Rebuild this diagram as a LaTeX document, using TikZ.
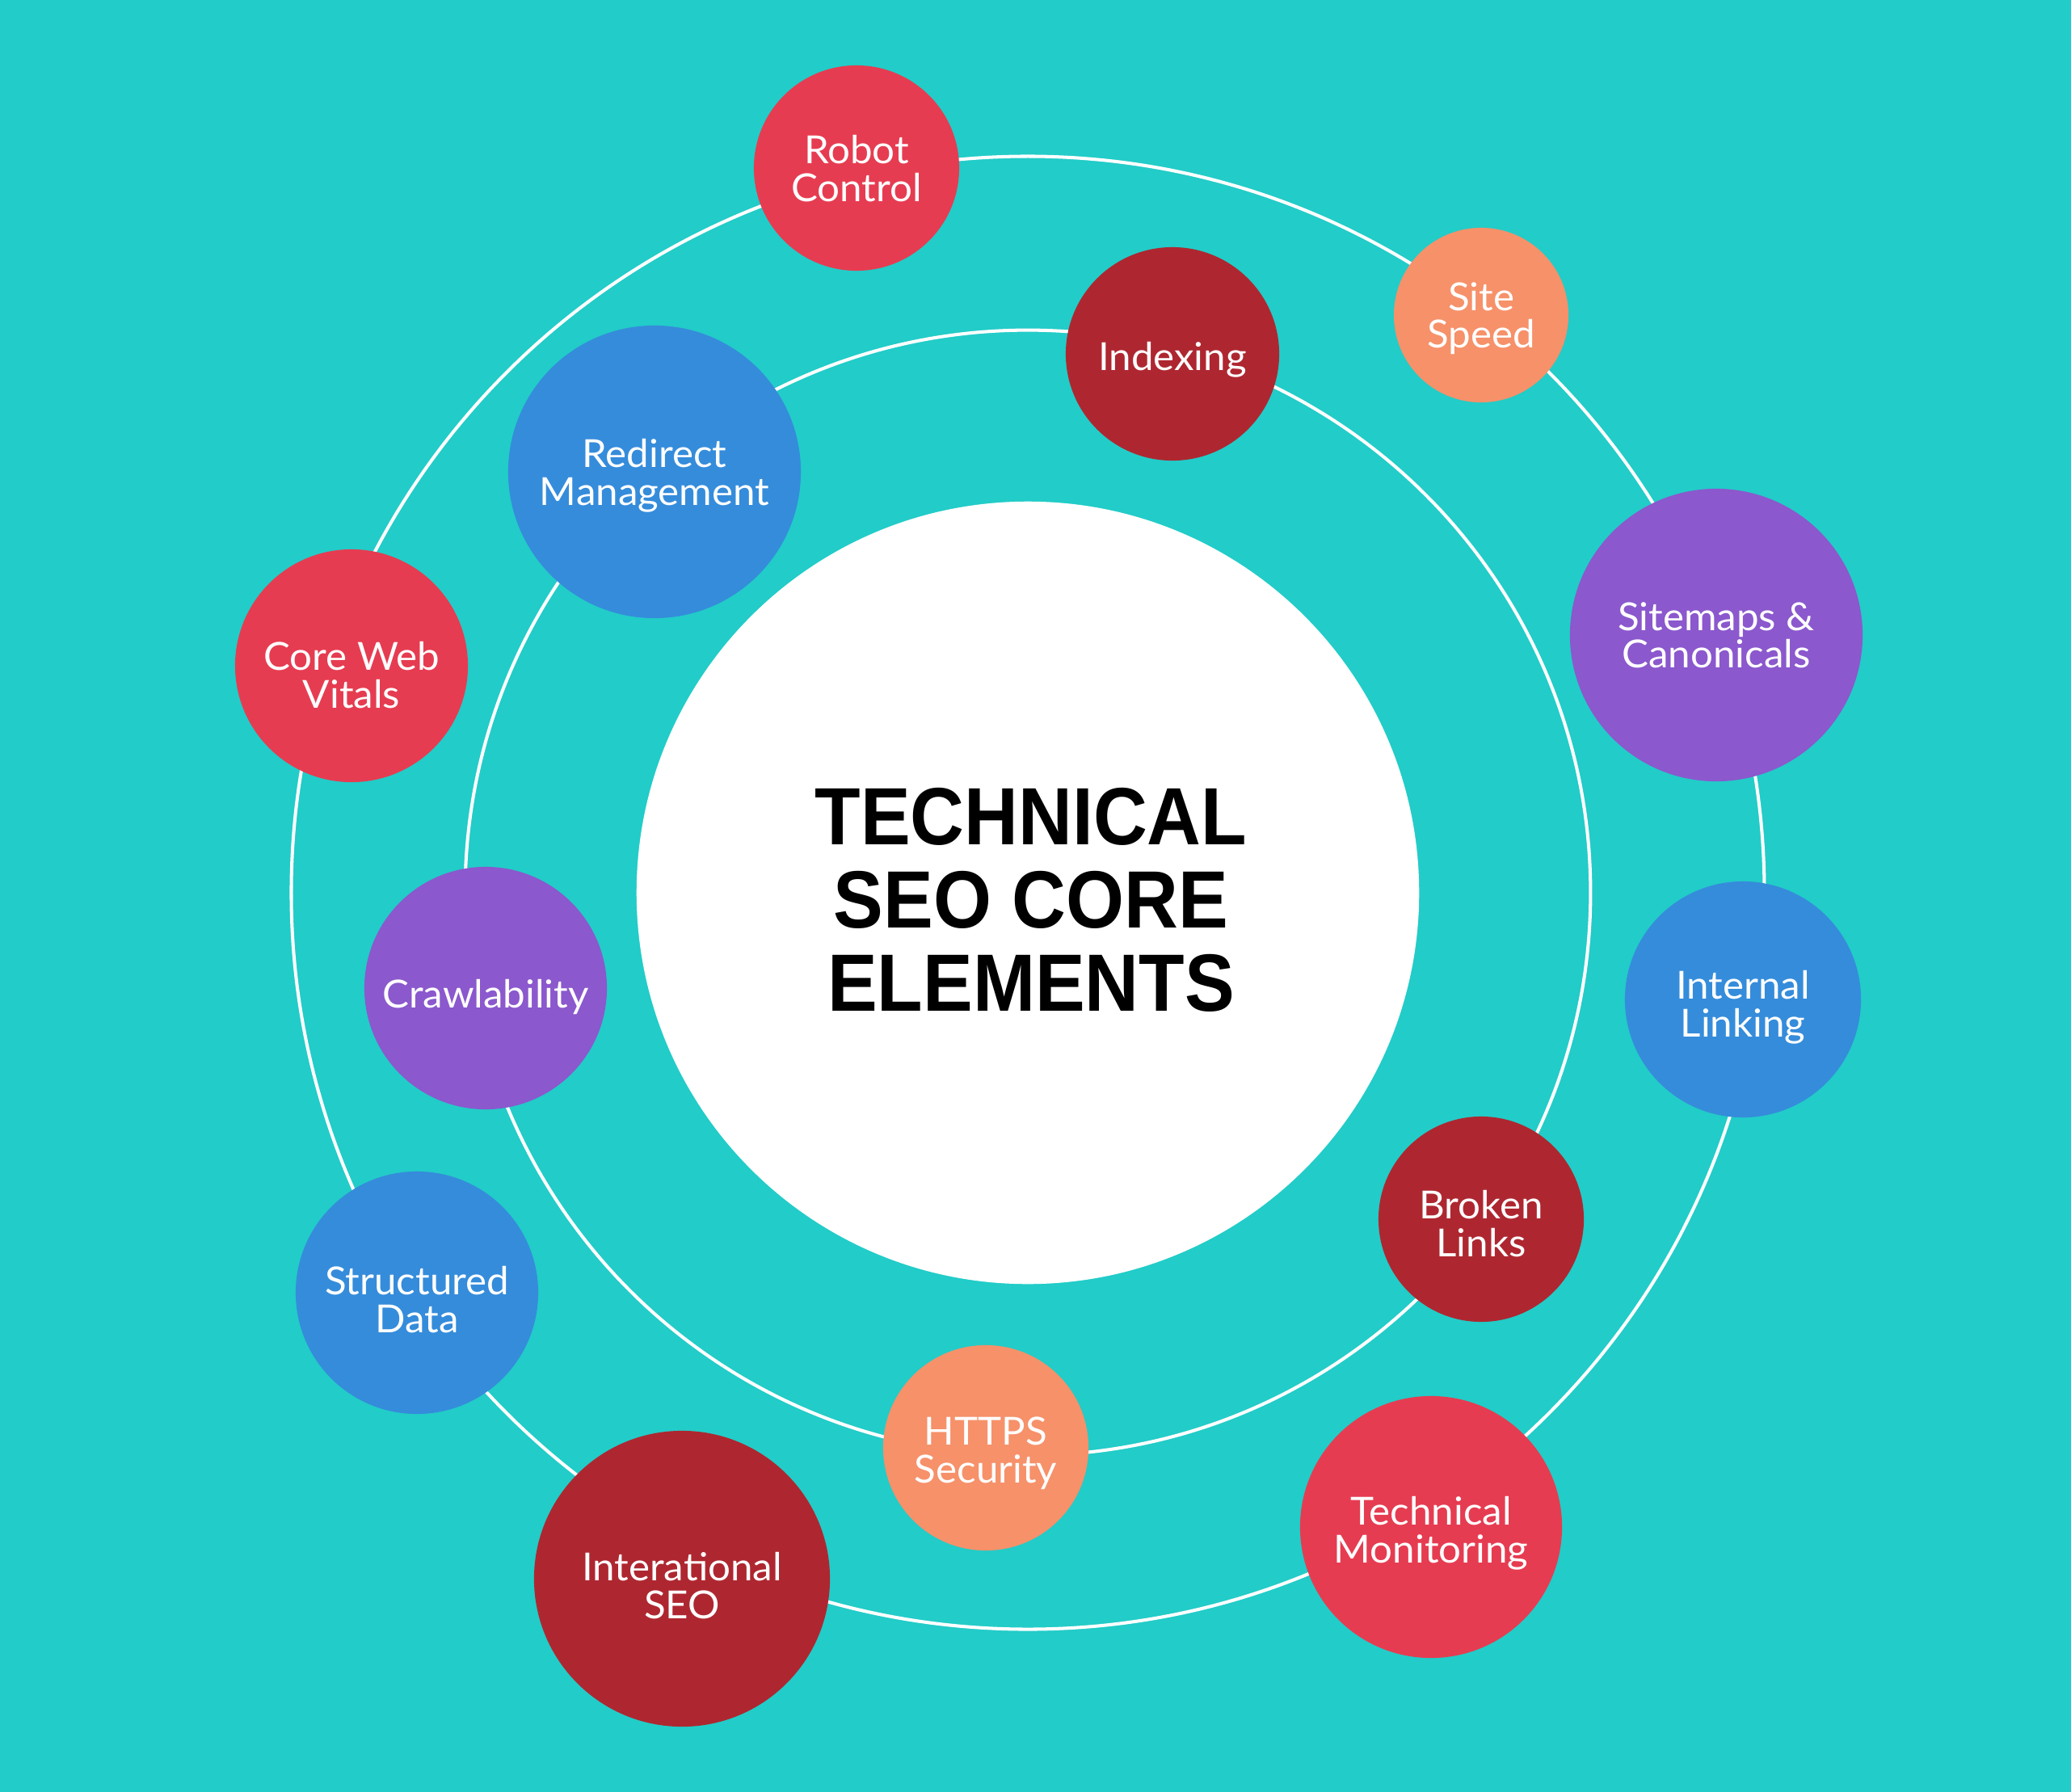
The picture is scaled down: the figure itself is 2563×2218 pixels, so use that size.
\documentclass[tikz,border=0pt]{standalone}
\usepackage{fontspec}
\setmainfont[FakeStretch=1.03]{Lato}
\newfontfamily\titlefont[FakeStretch=0.92]{Liberation Sans}
\definecolor{bgteal}{HTML}{22CCC8}
\definecolor{cred}{HTML}{E63C51}
\definecolor{cdark}{HTML}{AE2730}
\definecolor{csalmon}{HTML}{F6916A}
\definecolor{cblue}{HTML}{358CDB}
\definecolor{cpurple}{HTML}{8B58CD}
\begin{document}
\begin{tikzpicture}[x=0.01cm,y=-0.01cm,
  ringc/.style={circle, draw=white, line width=1.15pt, inner sep=0pt},
  bub/.style={circle, inner sep=0pt},
  lbl/.style={inner sep=0pt, text=white, align=center,
    font=\fontsize{13.6}{13.3}\selectfont, text depth=0pt},
  redb/.style={bub, fill=cred},
  darkb/.style={bub, fill=cdark},
  salb/.style={bub, fill=csalmon},
  blueb/.style={bub, fill=cblue},
  purb/.style={bub, fill=cpurple}]
\fill[bgteal] (0,0) rectangle (2563,2218);
\useasboundingbox (0,0) rectangle (2563,2218);
\coordinate (c) at (1272,1105);
% rings
\node[ringc, minimum size=18.22cm] (outer) at (c) {};
\node[ringc, minimum size=13.92cm] (inner) at (c) {};
% center
\node[circle, fill=white, inner sep=0pt, minimum size=9.68cm] (core) at (c) {};
\node[font=\titlefont\fontsize{28.6}{29.3}\selectfont\bfseries, align=center, text=black] (title) at (1276,1114) {TECHNICAL\\SEO CORE\\ELEMENTS};
% outer ring bubbles
\node[redb, minimum size=2.54cm] (robot) at (1060,208) {};
\node[salb, minimum size=2.16cm] (speed) at (1833,390) {};
\node[purb, minimum size=3.62cm] (sitemaps) at (2124,786) {};
\node[blueb, minimum size=2.92cm] (internal) at (2157,1237) {};
\node[redb, minimum size=3.24cm] (monitor) at (1771,1890) {};
\node[darkb, minimum size=3.66cm] (intl) at (844,1954) {};
\node[blueb, minimum size=3.00cm] (structured) at (516,1600) {};
\node[redb, minimum size=2.88cm] (cwv) at (435,824) {};
% inner ring bubbles
\node[darkb, minimum size=2.64cm] (indexing) at (1451,438) {};
\node[blueb, minimum size=3.62cm] (redirect) at (810,584) {};
\node[purb, minimum size=3.00cm] (crawl) at (601,1223) {};
\node[darkb, minimum size=2.54cm] (broken) at (1833,1509) {};
\node[salb, minimum size=2.54cm] (https) at (1220,1792) {};
% labels
\node[lbl] (robot-t) at (robot) {Robot\\Control};
\node[lbl] (speed-t) at (speed) {Site\\Speed};
\node[lbl] (sitemaps-t) at (sitemaps) {Sitemaps \&\\Canonicals};
\node[lbl, yshift=-0.05cm] (internal-t) at (internal) {Internal\\Linking};
\node[lbl, yshift=-0.03cm] (monitor-t) at (monitor) {Technical\\Monitoring};
\node[lbl, yshift=-0.08cm] (intl-t) at (intl) {Interational\\SEO};
\node[lbl, yshift=-0.08cm] (structured-t) at (structured) {Structured\\Data};
\node[lbl, yshift=-0.11cm] (cwv-t) at (cwv) {Core Web\\Vitals};
\node[lbl, yshift=-0.03cm] (indexing-t) at (indexing) {Indexing};
\node[lbl] (redirect-t) at (redirect) {Redirect\\Management};
\node[lbl, yshift=-0.065cm] (crawl-t) at (crawl) {Crawlability};
\node[lbl, yshift=-0.05cm] (broken-t) at (broken) {Broken\\Links};
\node[lbl, yshift=-0.03cm] (https-t) at (https) {HTTPS\\Security};
\end{tikzpicture}
\end{document}
